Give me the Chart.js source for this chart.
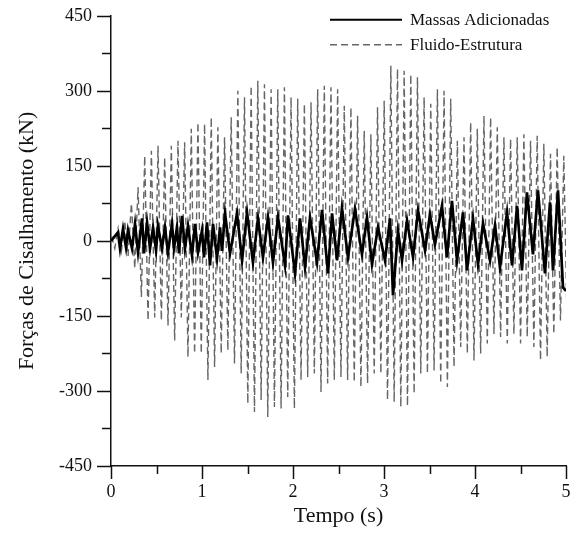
<!DOCTYPE html>
<html>
<head>
<meta charset="utf-8">
<script src="https://cdn.jsdelivr.net/npm/chart.js@4.4.1/dist/chart.umd.min.js"></script>
<style>
  html, body { margin: 0; padding: 0; background: #fff; }
  #wrap { width: 579px; height: 539px; }
</style>
</head>
<body>
<div id="wrap"><canvas id="forcas"></canvas></div>
<script>
const massasTempo = [
  0, 0.077, 0.099, 0.132, 0.165, 0.187, 0.231, 0.264, 0.297, 0.341, 0.363, 0.396,
  0.429, 0.462, 0.495, 0.516, 0.560, 0.593, 0.626, 0.670, 0.692, 0.725, 0.747, 0.780,
  0.813, 0.846, 0.890, 0.923, 0.956, 1.000, 1.022, 1.055, 1.088, 1.121, 1.165, 1.198,
  1.220, 1.253, 1.308, 1.385, 1.440, 1.495, 1.560, 1.615, 1.670, 1.725, 1.780, 1.835,
  1.912, 1.945, 2.022, 2.077, 2.132, 2.187, 2.264, 2.319, 2.385, 2.429, 2.484, 2.538,
  2.604, 2.681, 2.758, 2.813, 2.868, 2.934, 3.011, 3.066, 3.099, 3.154, 3.198, 3.253,
  3.319, 3.374, 3.451, 3.505, 3.560, 3.637, 3.692, 3.747, 3.802, 3.868, 3.912, 3.978,
  4.033, 4.088, 4.165, 4.220, 4.275, 4.352, 4.407, 4.462, 4.516, 4.571, 4.637, 4.692,
  4.769, 4.824, 4.857, 4.912, 4.967, 5.000
];
const massasForca = [
  0, 17, -15, 24, -13, 21, -15, 34, -23, 45, -25, 37,
  -15, 27, -19, 30, -15, 27, -23, 34, -15, 27, -25, 50,
  -15, 30, -29, 34, -23, 21, -33, 37, -49, 34, -35, 27,
  -20, 55, -25, 55, -39, 57, -43, 45, -33, 47, -43, 47,
  -49, 51, -65, 45, -53, 47, -43, 62, -65, 55, -39, 66,
  -33, 64, -27, 47, -47, 27, -39, 45, -109, 20, -39, 41,
  -33, 61, -19, 53, -7, 70, -33, 80, -39, 57, -59, 45,
  -47, 35, -39, 31, -53, 57, -49, 70, -59, 97, -27, 101,
  -65, 77, -59, 101, -93, -100
];

// Fluido-Estrutura: amostras alternando pico/vale, passo constante
const fluidoInicio = 0.005;
const fluidoPasso = 0.03655;
const fluidoForca = [
  10, -15, 25, -20, 40, -30, 75, -55,
  107, -112, 170, -159, 180, -153, 190, -159, 167, -169, 190, -199,
  200, -153, 197, -232, 224, -225, 237, -225, 234, -278, 247, -252,
  227, -225, 207, -219, 247, -245, 300, -265, 287, -325, 310, -342,
  320, -318, 313, -352, 303, -332, 303, -335, 307, -312, 287, -335,
  284, -278, 274, -272, 277, -265, 303, -302, 310, -285, 307, -278,
  303, -272, 270, -278, 267, -282, 250, -292, 220, -285, 213, -265,
  267, -265, 280, -318, 350, -322, 344, -332, 340, -330, 333, -305,
  327, -265, 287, -265, 274, -259, 303, -285, 300, -292, 284, -252,
  200, -212, 207, -225, 237, -239, 224, -225, 250, -205, 247, -186,
  227, -192, 207, -205, 204, -186, 207, -205, 213, -192, 200, -212,
  210, -239, 194, -232, 174, -186, 187, -159, 170, -165
];

const serieNomes = ['Massas Adicionadas', 'Fluido-Estrutura'];

const massasPontos = massasTempo.map((t, i) => ({ x: t, y: massasForca[i] }));
const fluidoPontos = fluidoForca.map((v, i) => ({ x: fluidoInicio + i * fluidoPasso, y: v }));

const serif = '"Liberation Serif", "Times New Roman", serif';

// marcas de escala (maiores nos rótulos, menores entre eles)
const marcasPlugin = {
  id: 'marcas',
  afterDraw(chart) {
    const ctx = chart.ctx;
    const xs = chart.scales.x, ys = chart.scales.y;
    const area = chart.chartArea;
    ctx.save();
    ctx.strokeStyle = '#111';
    ctx.lineWidth = 1.5;
    ys.ticks.forEach(t => {
      const py = Math.round(ys.getPixelForValue(t.value)) + 0.5;
      const len = (t.value % 150 === 0) ? 14 : 9;
      ctx.beginPath();
      ctx.moveTo(area.left - len, py);
      ctx.lineTo(area.left, py);
      ctx.stroke();
    });
    xs.ticks.forEach(t => {
      const px = Math.round(xs.getPixelForValue(t.value)) + 0.5;
      const len = (Math.abs(t.value - Math.round(t.value)) < 1e-6) ? 13 : 8;
      ctx.beginPath();
      ctx.moveTo(px, area.bottom);
      ctx.lineTo(px, area.bottom + len);
      ctx.stroke();
    });
    ctx.restore();
  }
};

const legendaPlugin = {
  id: 'legenda',
  afterDraw(chart) {
    const ctx = chart.ctx;
    const area = chart.chartArea;
    chart.data.datasets.forEach((ds, i) => {
      const y = area.top + 4 + i * 25;
      ctx.save();
      ctx.strokeStyle = ds.borderColor;
      ctx.lineWidth = Math.min(ds.borderWidth, 2);
      ctx.setLineDash(ds.borderDash || []);
      ctx.beginPath();
      ctx.moveTo(area.right - 236, y);
      ctx.lineTo(area.right - 164, y);
      ctx.stroke();
      ctx.setLineDash([]);
      ctx.fillStyle = '#111';
      ctx.font = '17px ' + serif;
      ctx.textBaseline = 'middle';
      ctx.fillText(ds.label, area.right - 156, y + 1);
      ctx.restore();
    });
  }
};

new Chart(document.getElementById('forcas'), {
  type: 'line',
  data: {
    datasets: [
      {
        label: serieNomes[0],
        data: massasPontos,
        borderColor: '#000',
        borderWidth: 2.7,
        pointRadius: 0,
        tension: 0
      },
      {
        label: serieNomes[1],
        data: fluidoPontos,
        borderColor: '#666',
        borderWidth: 1.4,
        borderDash: [7, 4],
        pointRadius: 0,
        tension: 0
      }
    ]
  },
  options: {
    responsive: true,
    maintainAspectRatio: false,
    animation: false,
    layout: { padding: { top: 15, right: 13, left: 0, bottom: 0 } },
    plugins: {
      legend: { display: false },
      tooltip: { enabled: false }
    },
    scales: {
      x: {
        type: 'linear',
        min: 0,
        max: 5,
        afterFit: s => { s.height = 73; },
        ticks: {
          stepSize: 0.5,
          padding: 2,
          color: '#111',
          font: { family: serif, size: 18 },
          maxRotation: 0,
          callback: v => (Math.abs(v - Math.round(v)) < 1e-6 ? String(Math.round(v)) : '')
        },
        grid: { drawOnChartArea: false, drawTicks: true, tickLength: 13, color: 'rgba(0,0,0,0)' },
        border: { display: true, color: '#111', width: 1.5 },
        title: {
          display: true,
          text: 'Tempo (s)',
          color: '#111',
          font: { family: serif, size: 22 },
          padding: { top: 0, bottom: 10 }
        }
      },
      y: {
        min: -450,
        max: 450,
        afterFit: s => { s.width = 111; },
        ticks: {
          stepSize: 75,
          padding: 5,
          color: '#111',
          font: { family: serif, size: 18 },
          callback: v => (v % 150 === 0 ? String(v) : '')
        },
        grid: { drawOnChartArea: false, drawTicks: true, tickLength: 14, color: 'rgba(0,0,0,0)' },
        border: { display: true, color: '#111', width: 1.5 },
        title: {
          display: true,
          text: 'Forças de Cisalhamento (kN)',
          color: '#111',
          font: { family: serif, size: 22 },
          padding: { top: 14, bottom: 0 }
        }
      }
    }
  },
  plugins: [marcasPlugin, legendaPlugin]
});
</script>
</body>
</html>
